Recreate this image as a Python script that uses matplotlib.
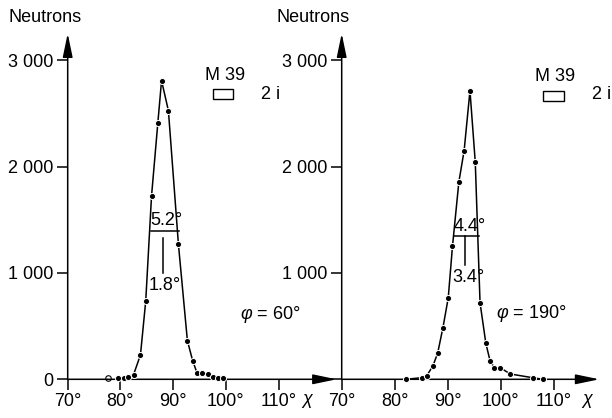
import matplotlib
matplotlib.use('Agg')
import matplotlib.pyplot as plt
from matplotlib.patches import Rectangle

plt.rcParams['font.family'] = ['Liberation Sans', 'DejaVu Sans']
plt.rcParams['font.size'] = 13
plt.rcParams['mathtext.fontset'] = 'custom'
plt.rcParams['mathtext.it'] = 'Liberation Sans:italic'
plt.rcParams['mathtext.rm'] = 'Liberation Sans'

# phi = 60 deg scan
left_chi = [79.6, 80.6, 81.5, 82.5, 83.8, 84.8, 85.9, 87.1, 87.8, 89.1, 91.0,
            92.7, 93.7, 94.5, 95.4, 96.7, 97.6, 98.6, 99.4]
left_counts = [15, 10, 25, 45, 229, 736, 1723, 2412, 2807, 2525, 1269,
               363, 175, 63, 56, 47, 25, 16, 16]
left_open_chi = [77.6]
left_open_counts = [15]

# phi = 190 deg scan
right_chi = [82.1, 85.1, 86.0, 87.2, 88.1, 89.1, 90.1, 90.9, 92.1, 93.1, 94.2,
             95.2, 96.1, 97.2, 98.0, 98.8, 99.9, 101.8, 106.0, 108.0]
right_counts = [0, 15, 30, 125, 245, 485, 765, 1250, 1853, 2150, 2712,
                2040, 719, 337, 172, 109, 109, 50, 15, 0]

x_ticks = [70, 80, 90, 100, 110]
x_labels = ['70°', '80°', '90°', '100°', '110°']
y_ticks = [0, 1000, 2000, 3000]
y_labels_left = ['0', '1 000', '2 000', '3 000']
y_labels_right = ['', '1 000', '2 000', '3 000']

fig = plt.figure(figsize=(6.12, 4.18), dpi=100)
W, H = 612, 418


def setup(ax, xmax, ylabels):
    ax.set_xlim(70, xmax)
    ax.set_ylim(0, 3250)
    for s in ax.spines.values():
        s.set_visible(False)
    ax.set_xticks(x_ticks)
    ax.set_xticklabels(x_labels)
    ax.set_yticks(y_ticks)
    ax.set_yticklabels(ylabels)
    ax.tick_params(direction='out', length=8, width=1.1, pad=2)
    arrow = dict(arrowstyle='-|>,head_length=1.2,head_width=0.25',
                 mutation_scale=12, lw=1.1, color='black',
                 shrinkA=0, shrinkB=0)
    ax.annotate('', xy=(xmax, 0), xytext=(70, 0), arrowprops=arrow,
                annotation_clip=False)
    ax.annotate('', xy=(70, 3250), xytext=(70, 0), arrowprops=arrow,
                annotation_clip=False)


def curve(ax, x, y):
    ax.plot(x, y, color='black', lw=1.1, clip_on=False)
    ax.plot(x, y, 'o', color='black', ms=4.4, mec='white', mew=0.7,
            clip_on=False, zorder=3)


# left panel
axl = fig.add_axes([67.7 / W, 38.7 / H, 268.9 / W, 345.8 / H])
setup(axl, 121.0, y_labels_left)
curve(axl, left_chi, left_counts)
axl.plot(left_open_chi, left_open_counts, 'o', mfc='white', mec='black',
         ms=4, mew=0.8, clip_on=False)
axl.plot([85.75, 91.2], [1390, 1390], color='black', lw=1.1)
axl.plot([88.0, 88.0], [1325, 1000], color='black', lw=1.1)
axl.text(88.8, 1415, '5.2°', ha='center', va='bottom')
axl.text(88.5, 880, '1.8°', ha='center', va='center')
axl.text(99.8, 2855, 'M 39', ha='center', va='center')
axl.add_patch(Rectangle((97.6, 2630), 3.8, 95, fill=False, lw=1.0,
                        ec='black'))
axl.text(108.4, 2675, '2 i', ha='center', va='center')
axl.text(102.7, 605, r'$\mathit{φ}$ = 60°', ha='left', va='center')

# right panel
axr = fig.add_axes([341.7 / W, 38.7 / H, 257.6 / W, 345.8 / H])
setup(axr, 118.6, y_labels_right)
curve(axr, right_chi, right_counts)
axr.plot([91.1, 95.9], [1347, 1347], color='black', lw=1.1)
axr.plot([93.3, 93.3], [1347, 1077], color='black', lw=1.1)
axr.text(94.2, 1360, '4.4°', ha='center', va='bottom')
axr.text(93.9, 960, '3.4°', ha='center', va='center')
axr.text(110.3, 2850, 'M 39', ha='center', va='center')
axr.add_patch(Rectangle((107.9, 2615), 4.1, 90, fill=False, lw=1.0,
                        ec='black', clip_on=False))
axr.text(119.0, 2675, '2 i', ha='center', va='center', clip_on=False)
axr.text(99.2, 620, r'$\mathit{φ}$ = 190°', ha='left', va='center')

fig.text(8 / W, 1 - 18 / H, 'Neutrons', ha='left', va='center')
fig.text(276 / W, 1 - 18 / H, 'Neutrons', ha='left', va='center')
fig.text(308 / W, 1 - 401 / H, r'$\mathit{χ}$', ha='center', va='center')
fig.text(588 / W, 1 - 401 / H, r'$\mathit{χ}$', ha='center', va='center')

fig.savefig('out.png', dpi=100)
